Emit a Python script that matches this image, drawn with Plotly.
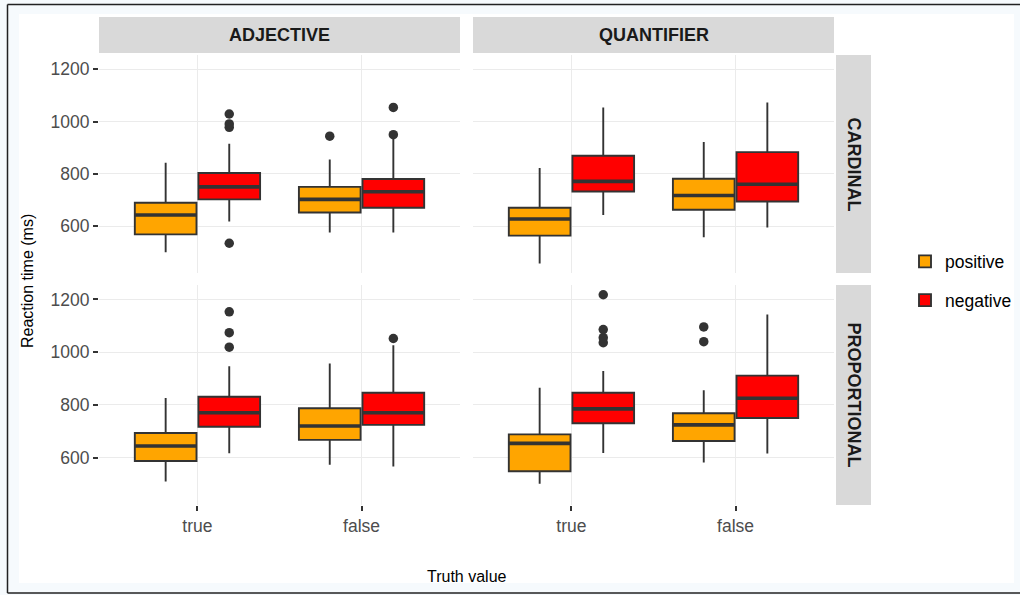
import plotly.graph_objects as go

# ---------------- data ----------------
truth = ['true', 'false']
polarity = ['positive', 'negative']
col_facets = ['ADJECTIVE', 'QUANTIFIER']
row_facets = ['CARDINAL', 'PROPORTIONAL']
# panel order: CARDINAL/ADJECTIVE, CARDINAL/QUANTIFIER, PROPORTIONAL/ADJECTIVE, PROPORTIONAL/QUANTIFIER
# each inner list: [true, false]
pos_lower = [[499, 575], [456, 557], [509, 573], [501, 581]]
pos_q1 = [[568, 652], [563, 662], [587, 667], [548, 663]]
pos_median = [[642, 702], [627, 717], [644, 720], [654, 724]]
pos_q3 = [[689, 750], [670, 781], [693, 787], [688, 768]]
pos_upper = [[842, 855], [822, 922], [826, 957], [865, 856]]
pos_outliers = [[[], [944]], [[], []], [[], []], [[], [1096, 1040]]]

neg_lower = [[617, 575], [642, 594], [616, 566], [617, 615]]
neg_q1 = [[702, 670], [732, 694], [717, 724], [730, 750]]
neg_median = [[750, 731], [771, 760], [770, 770], [785, 825]]
neg_q3 = [[803, 780], [869, 883], [831, 846], [846, 911]]
neg_upper = [[915, 937], [1054, 1073], [947, 1026], [929, 1143]]
neg_outliers = [[[1029, 991, 978, 534], [1054, 950]], [[], []],
                [[1153, 1074, 1019], [1052]], [[1218, 1086, 1055, 1036], []]]

y_ticks = [600, 800, 1000, 1200]
y_range = [420, 1255]

colors = {'positive': '#FFA500', 'negative': '#FF0000'}
stats = {
    'positive': (pos_lower, pos_q1, pos_median, pos_q3, pos_upper, pos_outliers),
    'negative': (neg_lower, neg_q1, neg_median, neg_q3, neg_upper, neg_outliers),
}

# ---------------- layout geometry (pixels) ----------------
W, H = 1020, 595
FONT = 'Liberation Sans, Arial, Helvetica, sans-serif'
col_px = [(99, 460), (473, 834)]
row_px = [(55, 273), (285, 505)]


def fx(x):
    return x / W


def fy(y):
    return 1 - y / H


fig = go.Figure()

shown = set()
for k in range(4):
    r, c = divmod(k, 2)
    xa = 'x' if k == 0 else f'x{k + 1}'
    ya = 'y' if k == 0 else f'y{k + 1}'
    for pol in polarity:
        lo, q1, med, q3, up, outs = stats[pol]
        for t, tv in enumerate(truth):
            kw = {}
            if outs[k][t]:
                kw['y'] = [outs[k][t]]
            fig.add_trace(go.Box(
                x=[tv], q1=[q1[k][t]], median=[med[k][t]], q3=[q3[k][t]],
                lowerfence=[lo[k][t]], upperfence=[up[k][t]],
                orientation='v', name=pol, legendgroup=pol,
                showlegend=(pol not in shown),
                offsetgroup=pol, xaxis=xa, yaxis=ya,
                fillcolor=colors[pol], line=dict(color='#333333', width=1.9),
                boxpoints='outliers', jitter=0, pointpos=0,
                marker=dict(color='#333333', size=9.5, line=dict(width=0)),
                whiskerwidth=0, hoverinfo='skip', **kw))
            shown.add(pol)
            # thicker median line overlay (ggplot style)
            fig.add_trace(go.Box(
                x=[tv], q1=[med[k][t]], median=[med[k][t]], q3=[med[k][t]],
                lowerfence=[med[k][t]], upperfence=[med[k][t]],
                orientation='v', name=pol, legendgroup=pol, showlegend=False,
                offsetgroup=pol, xaxis=xa, yaxis=ya,
                fillcolor='rgba(0,0,0,0)', line=dict(color='#333333', width=3.6),
                boxpoints=False, whiskerwidth=0, hoverinfo='skip'))

layout = dict(
    width=W, height=H, autosize=False,
    margin=dict(l=0, r=0, t=0, b=0),
    paper_bgcolor='#F6FAFD', plot_bgcolor='white',
    boxmode='group', boxgap=0.225, boxgroupgap=0.03,
    font=dict(family=FONT, color='#000000'),
    legend=dict(x=fx(905), xanchor='left', y=fy(281), yanchor='middle',
                font=dict(size=17.5, family=FONT, color='#000000'),
                bgcolor='rgba(0,0,0,0)', tracegroupgap=13, traceorder='grouped'),
    showlegend=True,
)

for k in range(4):
    r, c = divmod(k, 2)
    sfx = '' if k == 0 else str(k + 1)
    layout['xaxis' + sfx] = dict(
        domain=[fx(col_px[c][0]), fx(col_px[c][1])],
        anchor='y' + sfx, type='category',
        categoryorder='array', categoryarray=truth, range=[-0.6, 1.6],
        showgrid=True, gridcolor='#EBEBEB', gridwidth=1, zeroline=False,
        showline=False, ticks='outside' if r == 1 else '',
        ticklen=5, tickwidth=1.5, tickcolor='#333333',
        showticklabels=(r == 1),
        tickfont=dict(size=17.5, color='#4D4D4D', family=FONT),
    )
    layout['yaxis' + sfx] = dict(
        domain=[fy(row_px[r][1]), fy(row_px[r][0])],
        anchor='x' + sfx, range=y_range, tickmode='array', tickvals=y_ticks,
        showgrid=True, gridcolor='#EBEBEB', gridwidth=1, zeroline=False,
        showline=False, ticks='outside' if c == 0 else '',
        ticklen=5, tickwidth=1.5, tickcolor='#333333',
        showticklabels=(c == 0),
        tickfont=dict(size=17.5, color='#4D4D4D', family=FONT),
    )

shapes = [
    dict(type='rect', xref='paper', yref='paper', x0=fx(19), x1=fx(1014),
         y0=fy(583), y1=fy(14), fillcolor='white', line=dict(width=0), layer='below'),
]
for c in range(2):
    shapes.append(dict(type='rect', xref='paper', yref='paper',
                       x0=fx(col_px[c][0]), x1=fx(col_px[c][1]), y0=fy(53), y1=fy(17),
                       fillcolor='#D9D9D9', line=dict(width=0)))
for r in range(2):
    shapes.append(dict(type='rect', xref='paper', yref='paper',
                       x0=fx(836), x1=fx(871), y0=fy(row_px[r][1]), y1=fy(row_px[r][0]),
                       fillcolor='#D9D9D9', line=dict(width=0)))
border = dict(color='#222222', width=1.5)
shapes += [
    dict(type='line', xref='paper', yref='paper', x0=fx(7.5), x1=fx(7.5), y0=fy(593), y1=fy(4.5), line=border),
    dict(type='line', xref='paper', yref='paper', x0=fx(7.5), x1=1, y0=fy(4.5), y1=fy(4.5), line=border),
    dict(type='line', xref='paper', yref='paper', x0=fx(7.5), x1=1, y0=fy(593), y1=fy(593), line=border),
]
layout['shapes'] = shapes

annotations = []
for c, name in enumerate(col_facets):
    annotations.append(dict(text='<b>%s</b>' % name, xref='paper', yref='paper',
                            x=fx((col_px[c][0] + col_px[c][1]) / 2), y=fy(35),
                            xanchor='center', yanchor='middle', showarrow=False,
                            font=dict(size=18, color='#1A1A1A', family=FONT)))
for r, name in enumerate(row_facets):
    annotations.append(dict(text='<b>%s</b>' % name, xref='paper', yref='paper',
                            x=fx(853.5), y=fy((row_px[r][0] + row_px[r][1]) / 2),
                            xanchor='center', yanchor='middle', showarrow=False, textangle=90,
                            font=dict(size=18, color='#1A1A1A', family=FONT)))
annotations.append(dict(text='Reaction time (ms)', xref='paper', yref='paper',
                        x=fx(27), y=fy(281), xanchor='center', yanchor='middle',
                        showarrow=False, textangle=-90,
                        font=dict(size=16, color='#000000', family=FONT)))
annotations.append(dict(text='Truth value', xref='paper', yref='paper',
                        x=fx(466.5), y=fy(576), xanchor='center', yanchor='middle',
                        showarrow=False, font=dict(size=16, color='#000000', family=FONT)))
layout['annotations'] = annotations

fig.update_layout(**layout)
fig.write_html('out.html', config={'displayModeBar': False},
               post_script="document.body.style.margin='0';document.body.style.padding='0';"
                           "document.documentElement.style.overflow='hidden';")
